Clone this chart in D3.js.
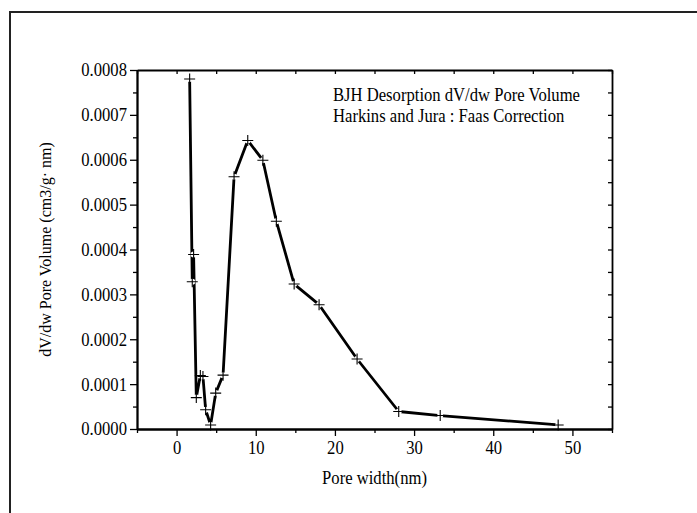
<!DOCTYPE html>
<html>
<head>
<meta charset="utf-8">
<script src="https://cdn.jsdelivr.net/npm/d3@7"></script>
<style>
  body { margin: 0; background: #fff; }
  svg text { font-family: "Times New Roman", "Liberation Serif", Times, serif; fill: #000; }
</style>
</head>
<body>
<svg id="chart" width="697" height="513"></svg>
<script>
// pore width (nm) and dV/dw pore volume, desorption branch
const poreWidth = [1.65, 1.98, 2.15, 2.49, 3.0, 3.33, 3.67, 4.3, 4.94, 5.87, 7.26, 8.99, 10.9, 12.6, 14.85, 18.0, 22.8, 28.06, 33.3, 48.2];
const poreVolume = [0.00078, 0.000328, 0.000389, 0.00007, 0.000119, 0.000117, 0.000043, 0.000009, 0.00008, 0.00012, 0.000562, 0.000643, 0.000599, 0.000463, 0.000323, 0.000277, 0.000156, 0.000039, 0.00003, 0.000009];
const xTicks = [0, 10, 20, 30, 40, 50];
const yTicks = [0, 0.0001, 0.0002, 0.0003, 0.0004, 0.0005, 0.0006, 0.0007, 0.0008];
const noteLines = ["BJH Desorption dV/dw Pore Volume", "Harkins and Jura : Faas Correction"];

const FONT = '"Times New Roman", "Liberation Serif", Times, serif';
const SQUEEZE = 0.9;   // the original text looks a bit narrow
const svg = d3.select('#chart');

// outer frame (only top/left visible in the picture)
svg.append('rect')
    .attr('x', 10).attr('y', 12)
    .attr('width', 720).attr('height', 540)
    .attr('fill', 'none')
    .attr('stroke', '#222')
    .attr('stroke-width', 2);

const pLeft = 137, pRight = 612, pTop = 70, pBottom = 429;

const x = d3.scaleLinear().domain([-5, 55]).range([pLeft, pRight]);
const y = d3.scaleLinear().domain([0, 0.0008]).range([pBottom, pTop]);

const minorX = d3.range(-5, 56, 5).filter(v => v % 10 !== 0);
const minorY = d3.range(0.00005, 0.0008, 0.0001);

// bottom axis
const gx = svg.append('g').attr('transform', `translate(0,${pBottom})`);
gx.call(d3.axisBottom(x).tickValues(xTicks).tickFormat(d3.format('d')).tickSize(7).tickSizeOuter(0).tickPadding(5));
gx.append('g').call(d3.axisBottom(x).tickValues(minorX).tickSize(4).tickSizeOuter(0).tickFormat(''));

// left axis
const gy = svg.append('g').attr('transform', `translate(${pLeft},0)`);
gy.call(d3.axisLeft(y).tickValues(yTicks).tickFormat(d3.format('.4f')).tickSize(7).tickSizeOuter(0).tickPadding(3));
gy.append('g').call(d3.axisLeft(y).tickValues(minorY).tickSize(4).tickSizeOuter(0).tickFormat(''));

// top and right axes, ticks inward
svg.append('g').attr('transform', `translate(0,${pTop})`)
    .call(d3.axisBottom(x).tickValues(d3.range(-5, 56, 5)).tickSize(4).tickSizeOuter(0).tickFormat(''));
svg.append('g').attr('transform', `translate(${pRight},0)`)
    .call(d3.axisLeft(y).tickValues(d3.range(0, 0.00081, 0.00005)).tickSize(4).tickSizeOuter(0).tickFormat(''));

svg.selectAll('g').attr('font-family', FONT);
svg.selectAll('.domain').attr('stroke', '#000').attr('stroke-width', 1.8);
svg.selectAll('.tick line').attr('stroke', '#000').attr('stroke-width', 1.3);
gx.selectAll('.tick text')
    .style('font-size', '18.5px').style('font-family', FONT)
    .attr('transform', `scale(${SQUEEZE},1)`);
gy.selectAll('.tick text')
    .style('font-size', '18.5px').style('font-family', FONT)
    .attr('x', -10 / SQUEEZE)
    .attr('transform', `scale(${SQUEEZE},1)`);

// data line
const pts = poreWidth.map((w, i) => [w, poreVolume[i]]);
svg.append('path')
    .datum(pts)
    .attr('d', d3.line().x(d => x(d[0])).y(d => y(d[1])))
    .attr('fill', 'none')
    .attr('stroke', '#000')
    .attr('stroke-width', 2.8)
    .attr('stroke-linejoin', 'round');

// gaps around markers
svg.selectAll('.gap').data(pts).enter().append('circle')
    .attr('cx', d => x(d[0])).attr('cy', d => y(d[1]))
    .attr('r', 3)
    .attr('fill', '#fff');

// plus markers
svg.selectAll('.mark').data(pts).enter().append('path')
    .attr('d', d => {
        const cx = x(d[0]), cy = y(d[1]), s = 5.5;
        return `M${cx - s},${cy}H${cx + s}M${cx},${cy - s}V${cy + s}`;
    })
    .attr('stroke', '#000')
    .attr('stroke-width', 1.1);

// annotation
svg.selectAll('.note').data(noteLines).enter().append('text')
    .attr('transform', (d, i) => `translate(333,${101 + i * 21}) scale(${SQUEEZE},1)`)
    .style('font-size', '18.5px')
    .style('font-family', FONT)
    .text(d => d);

// axis titles
svg.append('text')
    .attr('transform', `translate(${(pLeft + pRight) / 2},484) scale(${SQUEEZE},1)`)
    .attr('text-anchor', 'middle')
    .style('font-size', '18.5px')
    .style('font-family', FONT)
    .text('Pore width(nm)');

svg.append('text')
    .attr('transform', `translate(51,${(pTop + pBottom) / 2}) rotate(-90)`)
    .attr('text-anchor', 'middle')
    .style('font-size', '16px')
    .style('font-family', FONT)
    .text('dV/dw Pore Volume (cm3/g· nm)');
</script>
</body>
</html>
